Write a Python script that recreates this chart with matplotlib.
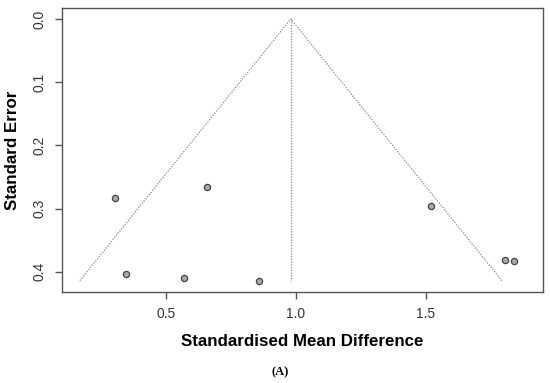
import numpy as np
import matplotlib.pyplot as plt

# study effects (standardised mean difference) and their standard errors
smd = [0.304, 0.345, 0.569, 0.659, 0.857, 1.520, 1.803, 1.838]
se = [0.284, 0.404, 0.410, 0.266, 0.414, 0.296, 0.381, 0.383]
pooled = 0.98
xticks = [0.5, 1.0, 1.5]
yticks = [0.0, 0.1, 0.2, 0.3, 0.4]

plt.rcParams['font.family'] = ['Liberation Sans', 'DejaVu Sans']

fig = plt.figure(figsize=(5.5, 3.83), dpi=100)
ax = fig.add_axes([62 / 550, 1 - 292 / 383, (543 - 62) / 550, (292 - 8) / 383])

# funnel: pooled estimate +/- 1.96*SE
se_max = max(se)
ax.plot([pooled - 1.96 * se_max, pooled, pooled + 1.96 * se_max], [se_max, 0, se_max],
        color='#888888', linestyle=(0, (1, 1.2)), linewidth=0.9)
ax.plot([pooled, pooled], [0, se_max], color='#888888', linestyle=(0, (1, 1.2)), linewidth=0.9)

ax.scatter(smd, se, s=20, facecolor='#aaaaaa', edgecolor='#444444', linewidth=0.9, zorder=3)

ax.set_xlim(0.1, 1.95)
ax.set_ylim(0.432, -0.0174)
ax.set_xticks(xticks)
ax.set_xticklabels([f'{v:.1f}' for v in xticks])
ax.set_yticks(yticks)
ax.set_yticklabels([f'{v:.1f}' for v in yticks], rotation=90, va='center')

for sp in ax.spines.values():
    sp.set_color('#555555')
    sp.set_linewidth(1.0)
ax.tick_params(colors='#555555', labelcolor='#333333', labelsize=10, length=5, width=1, pad=6)

ax.set_xlabel('Standardised Mean Difference', fontsize=12.2, fontweight='bold', labelpad=9)
ax.set_ylabel('Standard Error', fontsize=12.2, fontweight='bold', labelpad=9)

fig.text(280 / 550, 1 - 372 / 383, '(A)', ha='center', va='center', fontsize=9,
         fontweight='bold', family=['Liberation Serif', 'DejaVu Serif'])

fig.savefig('out.png', dpi=100, facecolor='white')
